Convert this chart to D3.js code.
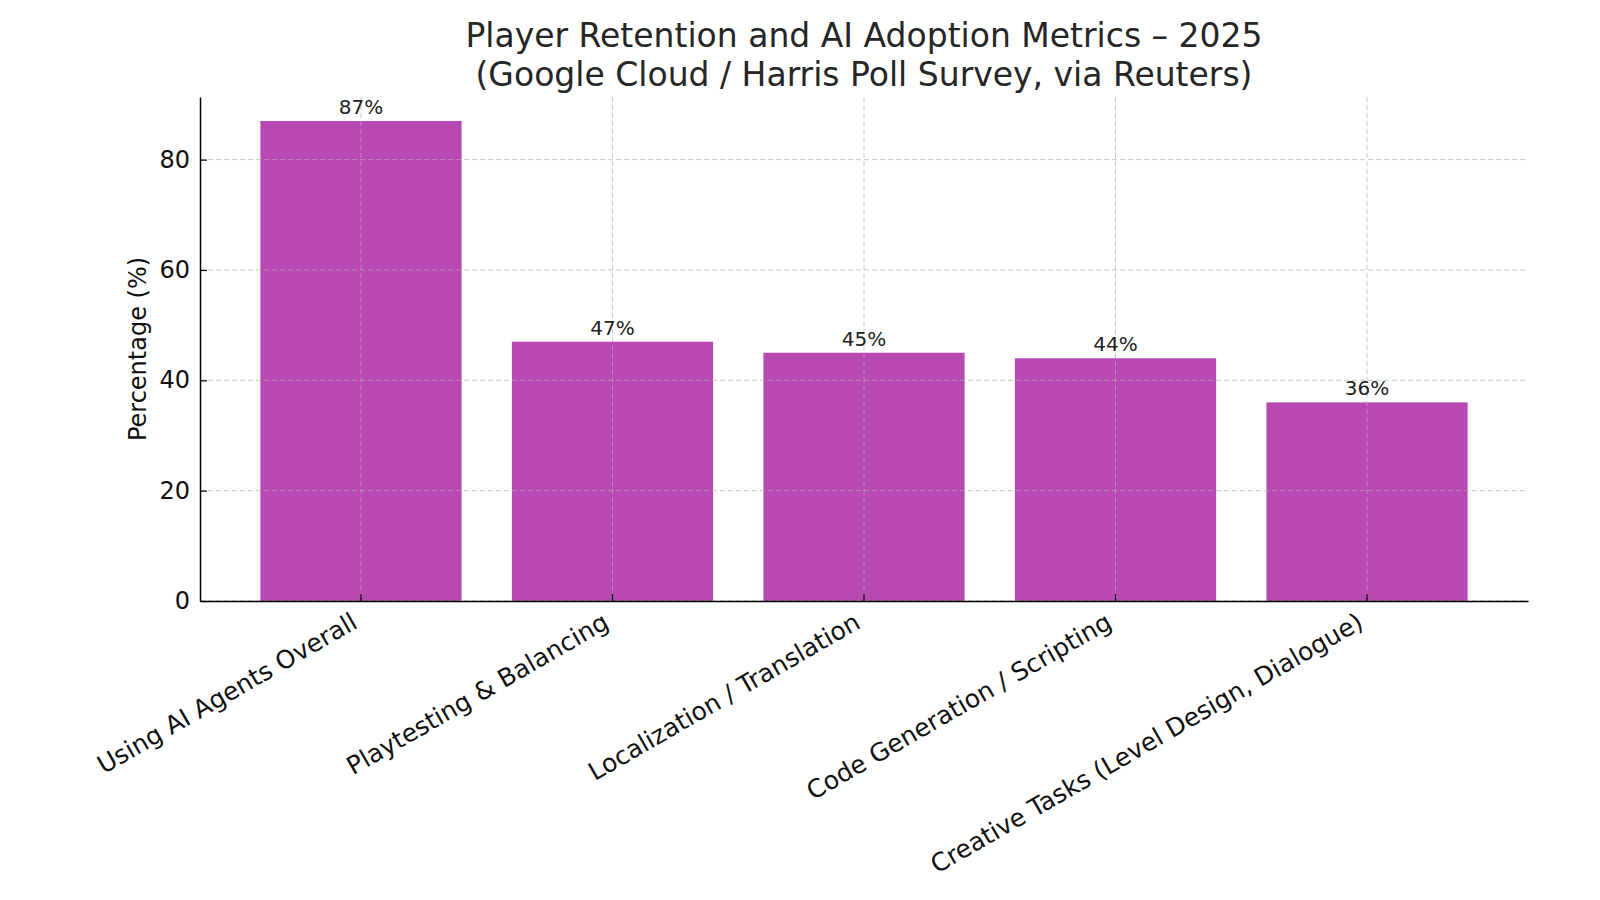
<!DOCTYPE html>
<html>
<head>
    <title>Player Retention and AI Adoption Metrics</title>
    <script src="https://d3js.org/d3.v7.min.js"></script>
    <style>
        body { margin: 0; background: #fff; }
        svg { font-family: "DejaVu Sans", sans-serif; }
    </style>
</head>
<body>
    <div id="chart"></div>

    <script>
        // chart data
        var categories = [
            "Using AI Agents Overall",
            "Playtesting & Balancing",
            "Localization / Translation",
            "Code Generation / Scripting",
            "Creative Tasks (Level Design, Dialogue)"
        ];
        var values = [87, 47, 45, 44, 36];
        var yTicks = [0, 20, 40, 60, 80];
        var titleLines = [
            "Player Retention and AI Adoption Metrics \u2013 2025",
            "(Google Cloud / Harris Poll Survey, via Reuters)"
        ];

        var width = 1600, height = 900;
        var plotLeft = 200, plotRight = 1528, plotTop = 97, plotBottom = 601;

        var svg = d3.select("#chart")
            .append("svg")
            .attr("width", width)
            .attr("height", height);

        // scales
        var x = d3.scaleBand()
            .domain(categories)
            .range([plotLeft, plotRight])
            .paddingInner(0.2)
            .paddingOuter(0.24);

        var y = d3.scaleLinear()
            .domain([0, d3.max(values) * 1.05])
            .range([plotBottom, plotTop]);

        // bars
        svg.selectAll(".bar")
            .data(values)
            .enter()
            .append("rect")
            .attr("class", "bar")
            .attr("x", function(d, i) { return x(categories[i]); })
            .attr("y", function(d) { return y(d); })
            .attr("width", x.bandwidth())
            .attr("height", function(d) { return y(0) - y(d); })
            .attr("fill", "#b848b2");

        // dashed grid, drawn over the bars
        var grid = svg.append("g").attr("class", "grid");
        grid.selectAll(".hgrid")
            .data(yTicks)
            .enter()
            .append("line")
            .attr("x1", plotLeft).attr("x2", plotRight)
            .attr("y1", function(d) { return y(d); })
            .attr("y2", function(d) { return y(d); });
        grid.selectAll(".vgrid")
            .data(categories)
            .enter()
            .append("line")
            .attr("x1", function(d) { return x(d) + x.bandwidth() / 2; })
            .attr("x2", function(d) { return x(d) + x.bandwidth() / 2; })
            .attr("y1", plotTop).attr("y2", plotBottom);
        grid.selectAll("line")
            .attr("stroke", "#b0b0b0")
            .attr("stroke-opacity", 0.7)
            .attr("stroke-width", 1)
            .attr("stroke-dasharray", "5,3");

        // y axis (inward ticks)
        var yAxis = svg.append("g")
            .attr("transform", "translate(" + plotLeft + ",0)")
            .call(d3.axisLeft(y).tickValues(yTicks).tickSizeInner(-7).tickSizeOuter(0).tickPadding(10));
        yAxis.select(".domain").attr("stroke", "#000").attr("stroke-width", 1.5);
        yAxis.selectAll(".tick line").attr("stroke", "#000").attr("stroke-width", 1.2);
        yAxis.selectAll(".tick text")
            .attr("x", -10)
            .attr("font-size", 24)
            .attr("font-family", "DejaVu Sans")
            .attr("fill", "#111");

        // x axis (inward ticks)
        var xAxis = svg.append("g")
            .attr("transform", "translate(0," + plotBottom + ")")
            .call(d3.axisBottom(x).tickSizeInner(-7).tickSizeOuter(0));
        xAxis.select(".domain").attr("stroke", "#000").attr("stroke-width", 1.5);
        xAxis.selectAll(".tick line").attr("stroke", "#000").attr("stroke-width", 1.2);
        xAxis.selectAll(".tick text")
            .attr("font-size", 25)
            .attr("font-family", "DejaVu Sans")
            .attr("fill", "#111")
            .attr("text-anchor", "end")
            .attr("dy", 0)
            .attr("y", 0)
            .attr("transform", "translate(-2,26) rotate(-30)");

        // value labels
        svg.selectAll(".val")
            .data(values)
            .enter()
            .append("text")
            .attr("class", "val")
            .attr("x", function(d, i) { return x(categories[i]) + x.bandwidth() / 2; })
            .attr("y", function(d) { return y(d) - 7; })
            .attr("text-anchor", "middle")
            .attr("font-size", 20)
            .attr("fill", "#222")
            .text(function(d) { return d + "%"; });

        // y label
        svg.append("text")
            .attr("transform", "translate(146," + (plotTop + plotBottom) / 2 + ") rotate(-90)")
            .attr("text-anchor", "middle")
            .attr("font-size", 24)
            .attr("fill", "#111")
            .text("Percentage (%)");

        // title
        svg.append("text")
            .attr("x", (plotLeft + plotRight) / 2)
            .attr("y", 47)
            .attr("text-anchor", "middle")
            .attr("font-size", 33)
            .attr("fill", "#262626")
            .selectAll("tspan")
            .data(titleLines)
            .enter()
            .append("tspan")
            .attr("x", (plotLeft + plotRight) / 2)
            .attr("dy", function(d, i) { return i === 0 ? 0 : 39; })
            .text(function(d) { return d; });
    </script>
</body>
</html>
